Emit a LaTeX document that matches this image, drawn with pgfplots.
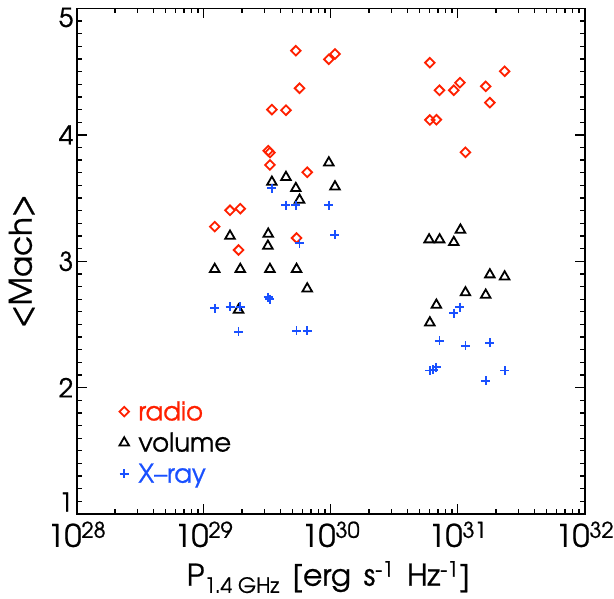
\documentclass[border=0pt]{standalone}
\usepackage{fontspec}
\setmainfont{TeX Gyre Adventor}[FakeBold=0.8]
\usepackage{pgfplots}
\pgfplotsset{compat=1.18}
\definecolor{myred}{RGB}{255,32,0}
\definecolor{myblue}{RGB}{25,80,255}
\newcommand{\lbl}{\fontsize{26}{31}\selectfont}
\begin{document}
\begin{tikzpicture}
\useasboundingbox (0,0) rectangle (614bp,599bp);
\begin{axis}[
  at={(76.7bp,85bp)}, anchor=south west,
  width=508bp, height=505.5bp, scale only axis,
  xmode=log, xmin=1e28, xmax=1e32, ymin=1, ymax=5,
  xtick={1e28,1e29,1e30,1e31,1e32},
  xticklabels={10\textsuperscript{28},10\textsuperscript{29},10\textsuperscript{30},10\textsuperscript{31},10\textsuperscript{32}},
  ytick={1,2,3,4,5},
  yticklabels={\raisebox{12bp}[\height][\depth]{1},2,3,4,\raisebox{-9bp}[\height][\depth]{5}},
  minor y tick num=9,
  tick pos=both, ticklabel pos=left,
  tick align=inside,
  major tick length=10bp, minor tick length=5bp,
  every tick/.style={black, line width=1.3bp},
  axis line style={line width=1.8bp},
  yticklabel style={font=\lbl},
  xticklabel style={font=\fontsize{31}{37}\selectfont, yshift=-4bp},
  every axis x label/.style={at={(axis description cs:0.495,-0.125)}, anchor=center, font=\fontsize{30}{36}\selectfont},
  every axis y label/.style={at={(axis description cs:-0.108,0.5)}, anchor=center, rotate=90, font=\fontsize{31}{37}\selectfont},
  xlabel={P\textsubscript{1.4 GHz}\hspace{0.15em} [erg\hspace{0.15em} s\textsuperscript{-1}\hspace{0.15em} Hz\textsuperscript{-1}]},
  ylabel={<Mach>},
  legend cell align=left,
  legend style={at={(axis description cs:0.075,0.141)}, anchor=west, draw=none, fill=none, font=\lbl, row sep=6.5bp},
  legend image code/.code={\path (-6bp,0bp) (12bp,0bp); \draw[#1] plot coordinates {(0bp,0bp)};},
]
\addplot[only marks, mark=square, mark size=3.4bp, myred, mark options={rotate=45, line width=1.8bp, solid}] coordinates {
(5.31e29,4.666) (9.66e29,4.598) (1.08e30,4.64) (5.68e29,4.369) (3.44e29,4.20)
(4.44e29,4.195) (3.22e29,3.875) (3.32e29,3.86) (3.32e29,3.762) (6.53e29,3.704)
(1.61e29,3.403) (1.94e29,3.416) (1.22e29,3.274) (5.38e29,3.184) (1.88e29,3.089)
(6.03e30,4.571) (2.34e31,4.503) (1.04e31,4.413) (9.31e30,4.353) (7.18e30,4.353)
(1.66e31,4.384) (1.79e31,4.255) (6.03e30,4.118) (6.79e30,4.12) (1.15e31,3.862)
};
\addlegendentry{\textcolor{myred}{radio}}
\addplot[only marks, mark=triangle, mark size=5.5bp, black, mark options={line width=1.8bp, solid}] coordinates {
(3.44e29,3.627) (4.44e29,3.665) (5.31e29,3.577) (1.08e30,3.59) (5.68e29,3.485)
(9.66e29,3.78) (1.61e29,3.20) (3.22e29,3.216) (3.2e29,3.121) (1.22e29,2.937)
(1.94e29,2.937) (3.32e29,2.937) (5.38e29,2.937) (6.53e29,2.783) (1.88e29,2.615)
(5.95e30,3.171) (7.2e30,3.171) (9.31e30,3.150) (1.05e31,3.248) (1.79e31,2.894)
(2.34e31,2.878) (1.15e31,2.752) (1.66e31,2.733) (6.79e30,2.654) (6.03e30,2.514)
};
\addlegendentry{volume}
\addplot[only marks, mark=+, mark size=4.5bp, myblue, mark options={line width=1.8bp, solid}] coordinates {
(3.44e29,3.578) (4.44e29,3.443) (5.31e29,3.443) (9.66e29,3.443) (1.08e30,3.208)
(5.68e29,3.142) (1.22e29,2.628) (1.61e29,2.641) (1.94e29,2.641) (3.22e29,2.715)
(3.32e29,2.70) (1.88e29,2.443) (5.38e29,2.451) (6.53e29,2.451)
(9.31e30,2.589) (1.04e31,2.636) (7.18e30,2.372) (1.15e31,2.332) (1.79e31,2.354)
(6.03e30,2.135) (6.4e30,2.14) (6.79e30,2.161) (2.34e31,2.135) (1.66e31,2.053)
};
\addlegendentry{\textcolor{myblue}{X--ray}}
\end{axis}
\end{tikzpicture}
\end{document}
